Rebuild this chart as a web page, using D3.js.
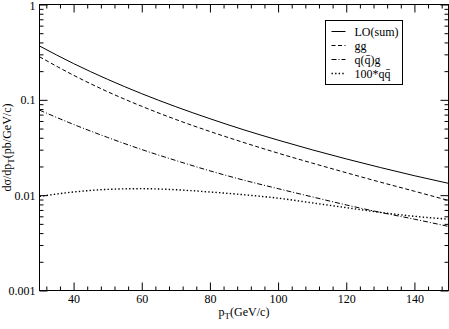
<!DOCTYPE html>
<html>
<head>
<meta charset="utf-8">
<script src="https://cdn.jsdelivr.net/npm/d3@7"></script>
<style>
  html, body { margin: 0; padding: 0; background: #fff; }
  svg { display: block; font-family: "Liberation Serif", "DejaVu Serif", serif; }
  .axis path { display: none; }
  .axis line { stroke: #000; stroke-width: 1; }
  .axis text { font-family: "Liberation Serif", serif; font-size: 12px; fill: #000; }
</style>
</head>
<body>
<svg id="chart" width="449" height="329"></svg>
<script>
// Cross sections (pb/GeV/c)
const ptValues = [30, 40, 50, 60, 70, 80, 90, 100, 110, 120, 130, 140, 150];
const loSum  = [0.367, 0.240, 0.164, 0.116, 0.0847, 0.0634, 0.0484, 0.0378, 0.0299, 0.0240, 0.0195, 0.0160, 0.0133];
const ggVals = [0.283, 0.181, 0.1216, 0.0855, 0.0622, 0.0466, 0.0356, 0.0276, 0.0217, 0.0172, 0.0137, 0.0110, 0.0088];
const qgVals = [0.078, 0.0552, 0.0403, 0.0301, 0.0231, 0.0180, 0.01435, 0.0117, 0.0096, 0.0079, 0.0066, 0.0056, 0.0047];
const qqVals = [0.0097, 0.0108, 0.0115, 0.0117, 0.0114, 0.0108, 0.0101, 0.0093, 0.0083, 0.0074, 0.0066, 0.0060, 0.0056];

const xMajor = [40, 60, 80, 100, 120, 140];
const yMajor = [0.001, 0.01, 0.1, 1];
const yLabels = ['0.001', '0.01', '0.1', '1'];

const series = [
  { name: 'LO(sum)', values: loSum,  dash: null, width: 1 },
  { name: 'gg',      values: ggVals, dash: '4,2.5', width: 1 },
  { name: 'q(q\u0304)g', values: qgVals, dash: '5,2,1,2', width: 1 },
  { name: '100*qq\u0304', values: qqVals, dash: '1.4,2.2', width: 1.4 },
];

const svg = d3.select('#chart');
const L = 39.5, R = 448.5, T = 4.5, B = 290.5;

const x = d3.scaleLinear().domain([30, 150]).range([L, R]);
const y = d3.scaleLog().domain([0.001, 1]).range([B, T]);

// minor ticks
const xMinor = d3.range(32, 150, 4).filter(v => v % 20 !== 0);
const yMinor = [];
[0.001, 0.01, 0.1].forEach(d => { for (let k = 2; k <= 9; k++) yMinor.push(d * k); });

function addAxis(axisFn, scale, values, size, transform, labels) {
  const a = axisFn(scale).tickValues(values).tickSizeInner(-size).tickSizeOuter(0).tickPadding(4);
  a.tickFormat(labels ? labels : () => '');
  return svg.append('g').attr('class', 'axis').attr('transform', transform).call(a);
}

// bottom/top
addAxis(d3.axisBottom, x, xMajor, 8, `translate(0,${B})`, d => d);
addAxis(d3.axisBottom, x, xMinor, 4, `translate(0,${B})`);
addAxis(d3.axisTop, x, xMajor, 8, `translate(0,${T})`);
addAxis(d3.axisTop, x, xMinor, 4, `translate(0,${T})`);
// left/right
const yAx = addAxis(d3.axisLeft, y, yMajor, 8, `translate(${L},0)`, (d, i) => yLabels[i]);
addAxis(d3.axisLeft, y, yMinor, 4, `translate(${L},0)`);
addAxis(d3.axisRight, y, yMajor, 8, `translate(${R},0)`);
addAxis(d3.axisRight, y, yMinor, 4, `translate(${R},0)`);

// keep the top "1" inside the window
yAx.selectAll('text').filter(d => d === 1).attr('dy', '0.45em');

// frame
svg.append('rect')
  .attr('x', L).attr('y', T)
  .attr('width', R - L).attr('height', B - T)
  .attr('fill', 'none').attr('stroke', '#000').attr('stroke-width', 1);

// curves
const line = d3.line()
  .x((d, i) => x(ptValues[i]))
  .y(d => y(d))
  .curve(d3.curveMonotoneX);

svg.append('g').selectAll('path')
  .data(series)
  .join('path')
  .attr('d', d => line(d.values))
  .attr('fill', 'none')
  .attr('stroke', '#000')
  .attr('stroke-width', d => d.width)
  .attr('stroke-dasharray', d => d.dash);

// legend
const lg = svg.append('g').attr('transform', 'translate(325.5,20.5)');
lg.append('rect').attr('width', 77).attr('height', 64)
  .attr('fill', '#fff').attr('stroke', '#000').attr('stroke-width', 1);
series.forEach((s, i) => {
  const yy = 11 + i * 14;
  lg.append('line')
    .attr('x1', 6).attr('x2', 20).attr('y1', yy).attr('y2', yy)
    .attr('stroke', '#000').attr('stroke-width', s.width)
    .attr('stroke-dasharray', s.dash);
  lg.append('text')
    .attr('x', 29).attr('y', yy + 4)
    .attr('font-size', 12)
    .text(s.name);
});

// x title
const xt = svg.append('text')
  .attr('x', (L + R) / 2).attr('y', 316)
  .attr('text-anchor', 'middle').attr('font-size', 12);
xt.append('tspan').text('p');
xt.append('tspan').attr('font-size', 9).attr('dy', 3).text('T');
xt.append('tspan').attr('dy', -3).text('(GeV/c)');

// y title
const yt = svg.append('text')
  .attr('transform', `translate(11,${(T + B) / 2}) rotate(-90)`)
  .attr('text-anchor', 'middle').attr('font-size', 12);
yt.append('tspan').text('d\u03c3/dp');
yt.append('tspan').attr('font-size', 9).attr('dy', 3).text('T');
yt.append('tspan').attr('dy', -3).text('(pb/GeV/c)');
</script>
</body>
</html>
